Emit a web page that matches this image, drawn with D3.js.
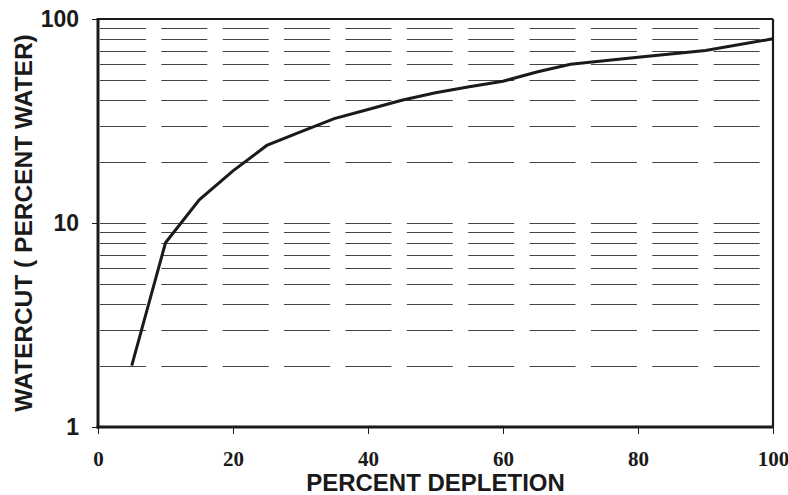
<!DOCTYPE html>
<html>
<head>
<meta charset="utf-8">
<script src="https://cdn.jsdelivr.net/npm/d3@7"></script>
<style>
  html, body { margin: 0; padding: 0; background: #fff; }
  svg { display: block; }
</style>
</head>
<body>
<svg id="chart" width="788" height="495"></svg>
<script>
// ---- data ----
const depletion = [5, 10, 15, 20, 25, 30, 35, 40, 45, 50, 55, 60, 65, 70, 80, 90, 100];
const watercut  = [2, 8, 13, 18, 24, 28, 32.5, 36, 40, 43.5, 46.5, 49.5, 55, 60, 65, 70, 80];
const xTicks = [0, 20, 40, 60, 80, 100];
const yTicks = [1, 10, 100];
const gridValues = [2, 3, 4, 5, 6, 7, 8, 9, 10, 20, 30, 40, 50, 60, 70, 80, 90];
const xTitle = "PERCENT DEPLETION";
const yTitle = "WATERCUT ( PERCENT WATER)";

// ---- layout ----
const svg = d3.select("#chart");
const L = 98, R = 773, T = 19, B = 427;

const x = d3.scaleLinear().domain([0, 100]).range([L, R]);
const y = d3.scaleLog().domain([1, 100]).range([B, T]);

// grid (dashed horizontal lines)
const period = (R - L) / 11;
svg.append("g").selectAll("line").data(gridValues).join("line")
  .attr("x1", L + 2).attr("x2", R)
  .attr("y1", d => Math.round(y(d)) + 0.5)
  .attr("y2", d => Math.round(y(d)) + 0.5)
  .attr("stroke", "#444")
  .attr("stroke-width", 1)
  .attr("stroke-dasharray", `${period - 15.4},15.4`);

// curve
const line = d3.line().x((d, i) => x(depletion[i])).y(d => y(d));
svg.append("path").datum(watercut)
  .attr("d", line)
  .attr("fill", "none")
  .attr("stroke", "#1a1a1a")
  .attr("stroke-width", 3)
  .attr("stroke-linejoin", "miter");

// frame
svg.append("line").attr("x1", L).attr("x2", R).attr("y1", T).attr("y2", T)
  .attr("stroke", "#1a1a1a").attr("stroke-width", 2.2);
svg.append("line").attr("x1", R).attr("x2", R).attr("y1", T).attr("y2", B)
  .attr("stroke", "#1a1a1a").attr("stroke-width", 2.2);

// x axis
const xAxis = d3.axisBottom(x).tickValues(xTicks).tickSize(7).tickPadding(17)
  .tickFormat(d3.format("d"));
const gx = svg.append("g").attr("transform", `translate(0,${B})`).call(xAxis);
gx.select(".domain").attr("stroke", "#1a1a1a").attr("stroke-width", 3)
  .attr("d", `M${L - 1.5},0H${R + 1}`);
gx.selectAll(".tick line").attr("stroke", "#1a1a1a").attr("stroke-width", 1);
gx.selectAll(".tick text")
  .attr("font-family", "'Liberation Serif', 'Times New Roman', serif")
  .attr("font-weight", "bold")
  .attr("font-size", 21)
  .attr("fill", "#1a1a1a");

// y axis
const yAxis = d3.axisLeft(y).tickValues(yTicks).tickSize(6).tickPadding(13)
  .tickFormat(d3.format("d"));
const gy = svg.append("g").attr("transform", `translate(${L},0)`).call(yAxis);
gy.select(".domain").attr("stroke", "#1a1a1a").attr("stroke-width", 3)
  .attr("d", `M0,${T - 1}V${B + 1.5}`);
gy.selectAll(".tick line").attr("stroke", "#1a1a1a").attr("stroke-width", 1);
gy.selectAll(".tick text")
  .attr("font-family", "'Liberation Sans', Arial, sans-serif")
  .attr("font-weight", "bold")
  .attr("font-size", 23)
  .attr("fill", "#1a1a1a");

// titles
svg.append("text")
  .attr("x", (L + R) / 2).attr("y", 491)
  .attr("text-anchor", "middle")
  .attr("font-family", "'Liberation Sans', Arial, sans-serif")
  .attr("font-weight", "bold")
  .attr("font-size", 24)
  .attr("fill", "#1a1a1a")
  .text(xTitle);

svg.append("text")
  .attr("transform", `translate(32,${(T + B) / 2}) rotate(-90)`)
  .attr("text-anchor", "middle")
  .attr("font-family", "'Liberation Sans', Arial, sans-serif")
  .attr("font-weight", "bold")
  .attr("font-size", 24.5)
  .attr("fill", "#1a1a1a")
  .text(yTitle);
</script>
</body>
</html>
